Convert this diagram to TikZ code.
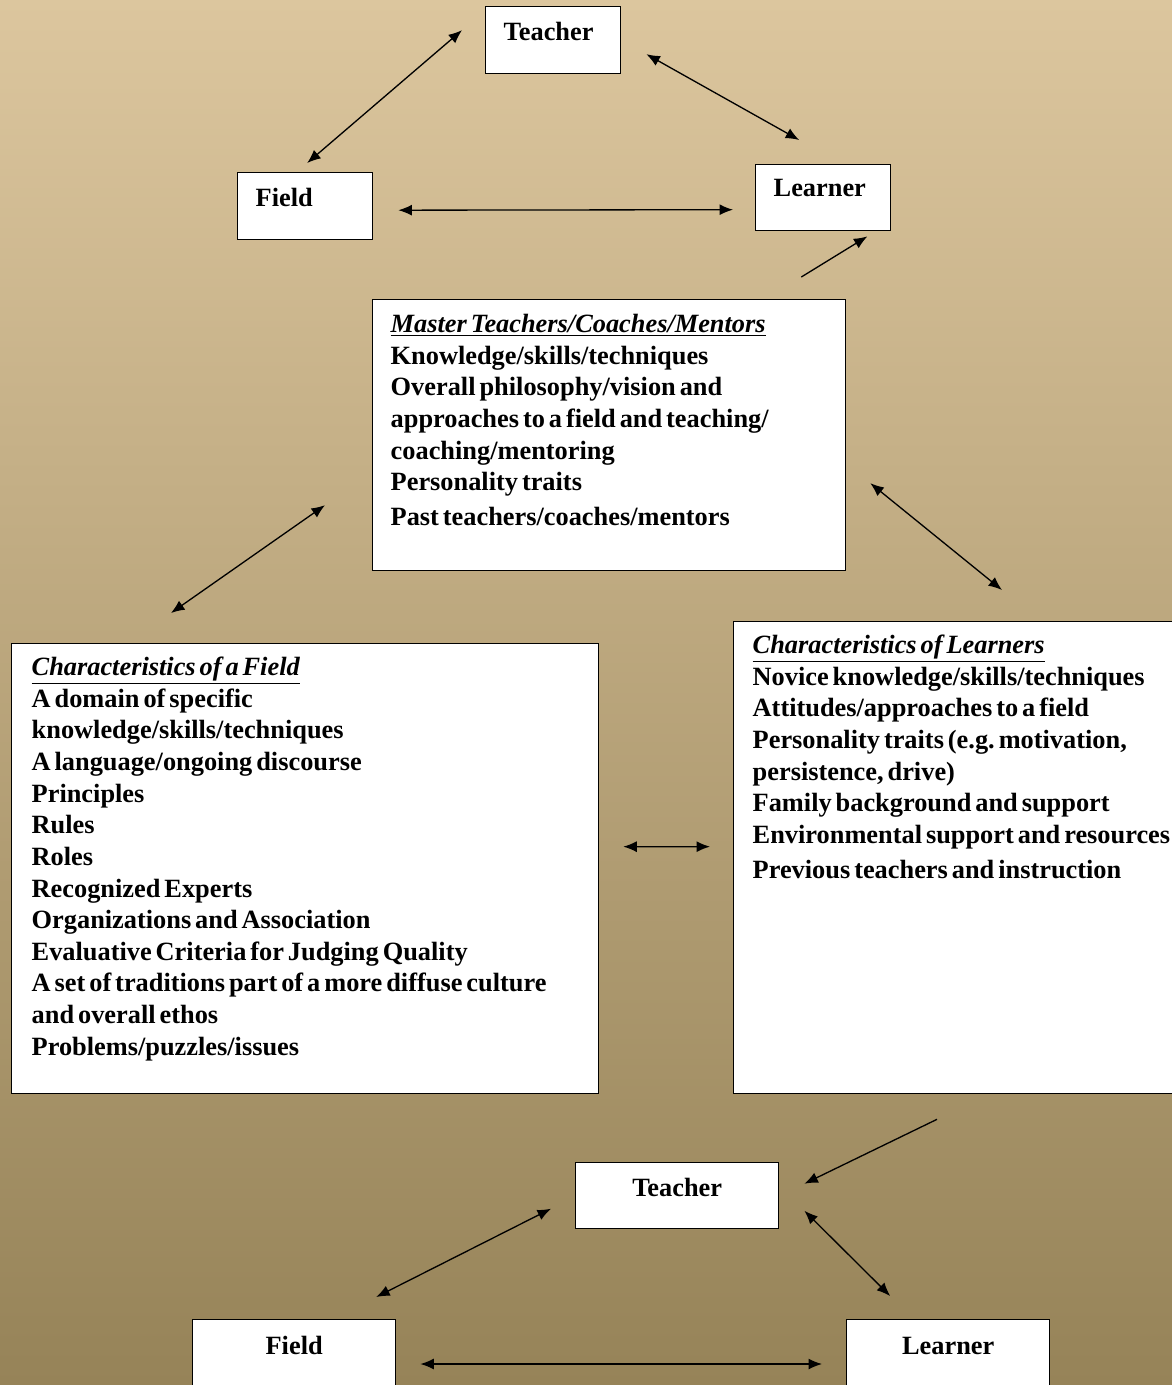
\documentclass[tikz,border=0pt]{standalone}
\usepackage{fontspec}
\setmainfont{Liberation Serif}
\usepackage{xcolor}
\usepackage{tikz}
\usetikzlibrary{arrows.meta}

\definecolor{paperTop}{RGB}{220,198,158}
\definecolor{paperMid}{RGB}{189,164,117}
\definecolor{paperBot}{RGB}{150,131,88}
\newcommand{\tightwords}{\frenchspacing\spaceskip=0.15em plus 0.05em\relax}

\begin{document}
\begin{tikzpicture}[x=0.02cm,y=-0.02cm,
      link/.style={{Latex[length=0.27cm,width=0.22cm]}-{Latex[length=0.27cm,width=0.22cm]},line width=0.75pt},
      oneway/.style={-{Latex[length=0.27cm,width=0.22cm]},line width=0.75pt},
      box/.style={draw,fill=white,line width=0.8pt,anchor=north west,inner ysep=0pt,align=left},
      small/.style={box,inner xsep=0.36cm,text width=1.98cm,text height=0.68cm,text depth=0.66cm},
      wide/.style={box,align=center,inner xsep=0.36cm,text width=3.34cm,text height=0.68cm,text depth=0.64cm},
      every node/.style={font=\fontsize{15}{18}\selectfont\bfseries}]
      \useasboundingbox (0,0) rectangle (1172,1385);
      \clip (0,0) rectangle (1172,1385);
      \shade[top color=paperTop,middle color=paperMid,bottom color=paperBot] (0,0) rectangle (1172,1385);

      % first triangle
      \node[small] (Teacher1) at (485,6) {Teacher};
      \node[small] (Field1) at (237,172) {Field};
      \node[small,text height=0.64cm,text depth=0.68cm] (Learner1) at (755,164) {Learner};
      \draw[link] ([shift={(-23,-10)}]Teacher1.west) -- ([shift={(2,-9)}]Field1.north);
      \draw[link] ([shift={(25,14)}]Teacher1.east) -- ([shift={(-24,-24)}]Learner1.north);
      \draw[link] ([shift={(25,4)}]Field1.east) -- ([shift={(-22,12)}]Learner1.west);

      \node[box,inner xsep=0.36cm,text width=8.74cm,text height=0.66cm,text depth=4.76cm] (Master) at (372,299)
      {\tightwords
       \underline{\textit{Master Teachers/Coaches/Mentors}}\\
       Knowledge/skills/techniques\\
       Overall philosophy/vision and\\
       approaches to a field and teaching/\\
       coaching/mentoring\\
       Personality traits\\[1.5pt]
       Past teachers/coaches/mentors};

      \node[box,inner xsep=0.4cm,text width=10.94cm,text height=0.64cm,text depth=8.36cm] (FieldChar) at (11,643)
      {\tightwords
       \underline{\textit{Characteristics of a Field}}\\
       A domain of specific\\
       knowledge/skills/techniques\\
       A language/ongoing discourse\\
       Principles\\
       Rules\\
       Roles\\
       Recognized Experts\\
       Organizations and Association\\
       Evaluative Criteria for Judging Quality\\
       A set of traditions part of a more diffuse culture\\
       and overall ethos\\
       Problems/puzzles/issues};

      \node[box,inner xsep=0.38cm,text width=8.64cm,text height=0.64cm,text depth=8.8cm] (LearnerChar) at (733,621)
      {\tightwords
       \underline{\textit{Characteristics of Learners}}\\
       Novice knowledge/skills/techniques\\
       Attitudes/approaches to a field\\
       Personality traits (e.g. motivation,\\
       persistence, drive)\\
       Family background and support\\
       Environmental support and resources\\[2pt]
       Previous teachers and instruction};

      \draw[oneway] ([shift={(-45,-22)}]Master.north east) -- ([shift={(-24,5)}]Learner1.south east);
      \draw[link] ([shift={(-47,70)}]Master.west) -- ([shift={(160,-30)}]FieldChar.north west);
      \draw[link] ([shift={(24,48)}]Master.east) -- ([shift={(269,-31)}]LearnerChar.north west);
      \draw[link] ([shift={(24,-22)}]FieldChar.east) -- ([shift={(-23,-11)}]LearnerChar.west);

      % second triangle
      \node[wide] (Teacher2) at (575,1162) {Teacher};
      \node[wide,text height=0.7cm,text depth=1.2cm] (Field2) at (192,1319) {Field};
      \node[wide,text height=0.7cm,text depth=1.2cm] (Learner2) at (846,1319) {Learner};
      \draw[oneway] ([shift={(204,25)}]LearnerChar.south west) -- ([shift={(25,-12)}]Teacher2.east);
      \draw[link] ([shift={(-24,13)}]Teacher2.west) -- ([shift={(82,-22)}]Field2.north);
      \draw[link] ([shift={(25,15)}]Teacher2.east) -- ([shift={(-58,-23)}]Learner2.north);
      \draw[link] ([shift={(24,45)}]Field2.north east) -- ([shift={(-24,45)}]Learner2.north west);
\end{tikzpicture}
\end{document}
